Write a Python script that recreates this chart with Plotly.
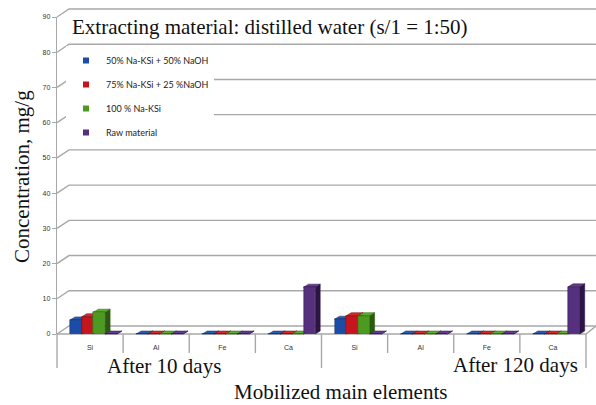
import plotly.graph_objects as go

# ---------------- data ----------------
elements = ["Si", "Al", "Fe", "Ca"]
periods = ["After 10 days", "After 120 days"]
tick_labels = elements * len(periods)

series_names = ["50% Na-KSi + 50% NaOH", "75% Na-KSi + 25 %NaOH", "100 % Na-KSi", "Raw material"]
naksi_50 = [4.0, 0, 0, 0, 4.2, 0, 0, 0]
naksi_75 = [4.9, 0, 0, 0, 5.2, 0, 0, 0]
naksi_100 = [6.2, 0, 0, 0, 5.2, 0, 0, 0]
raw_material = [0, 0, 0, 13.3, 0, 0, 0, 13.4]
series_values = [naksi_50, naksi_75, naksi_100, raw_material]

y_ticks = list(range(0, 91, 10))

# ---------------- style ----------------
front_cols = ["#1C4DA6", "#C4161C", "#4C9A1F", "#55307E"]
top_cols = ["#2D5EB3", "#D42A2A", "#5AAE28", "#643A92"]
side_cols = ["#0E2A5C", "#6E0A0C", "#2A5A0E", "#2C1545"]
grid_col = "#A8A8A8"
SERIF = "Liberation Serif"

W, H = 596, 405
L, R, T, B = 57, 586, 17, 334        # plot area in pixels
YMAX = 90
ncat = len(tick_labels)
cw = (R - L) / ncat
DX, DY = 12, 8                        # wall depth (px)
bdx, bdy = 5, 3                       # bar depth (px)
bw = 0.177                            # bar width (category units)
b0 = -0.303                           # first bar offset


def px(xd):
    return L + (xd + 0.5) * cw


def py(v):
    return B - v * (B - T) / YMAX


def fx(p):
    return (p - L) / (R - L)


def fy(p):
    return (B - p) / (B - T)


def path(pts, close=False):
    s = "M " + " L ".join(f"{fx(a):.5f},{fy(b):.5f}" for a, b in pts)
    return s + (" Z" if close else "")


shapes = []
# back-wall gridlines with 3D perspective
for v in y_ticks:
    y = py(v)
    shapes.append(dict(type="path", xref="paper", yref="paper", layer="below",
                       path=path([(L, y), (L + DX, y - DY), (W, y - DY)]),
                       line=dict(color=grid_col, width=1.4)))
# floor front edge and right side
y0 = py(0)
shapes.append(dict(type="path", xref="paper", yref="paper", layer="below",
                   path=path([(L, y0), (R, y0), (R + DX - 2, y0 - DY)]),
                   line=dict(color=grid_col, width=1.4)))
# category dividers
for k in range(ncat + 1):
    long = k % len(elements) == 0
    shapes.append(dict(type="line", xref="paper", yref="paper", layer="below",
                       x0=fx(L + k * cw), x1=fx(L + k * cw),
                       y0=fy(y0), y1=fy(y0 + (34 if long else 19)),
                       line=dict(color=grid_col, width=1.4)))

# 3D faces of the bars (drawn below the bar fronts)
for j in range(ncat):
    for i, vals in enumerate(series_values):
        v = vals[j]
        left = px(j + b0 + i * bw)
        right = px(j + b0 + (i + 1) * bw)
        top = py(v)
        shapes.append(dict(type="path", xref="paper", yref="paper", layer="below",
                           path=path([(right, y0), (right, top), (right + bdx, top - bdy),
                                      (right + bdx, y0 - bdy)], True),
                           fillcolor=side_cols[i], line=dict(color=side_cols[i], width=0.5)))
        shapes.append(dict(type="path", xref="paper", yref="paper", layer="below",
                           path=path([(left, top), (left + bdx, top - bdy),
                                      (right + bdx, top - bdy), (right, top)], True),
                           fillcolor=top_cols[i], line=dict(color=side_cols[i], width=0.5)))

fig = go.Figure()
xpos = list(range(ncat))
for i, (name, vals) in enumerate(zip(series_names, series_values)):
    fig.add_trace(go.Bar(x=xpos, y=vals, name=name, width=bw, offset=b0 + i * bw,
                         marker=dict(color=front_cols[i], line=dict(color=side_cols[i], width=0.5)),
                         showlegend=False, legendgroup=name))
    fig.add_trace(go.Scatter(x=[None], y=[None], mode="markers", name=name, legendgroup=name,
                             marker=dict(symbol="square", size=6, color=front_cols[i])))

annotations = [
    dict(text="Extracting material: distilled water (s/1 = 1:50)", xref="paper", yref="paper",
         x=fx(70), y=fy(27), xanchor="left", yanchor="middle", showarrow=False,
         font=dict(family=SERIF, size=21, color="#111")),
    dict(text="Concentration, mg/g", xref="paper", yref="paper", x=fx(22), y=fy(177),
         textangle=-90, xanchor="center", yanchor="middle", showarrow=False,
         font=dict(family=SERIF, size=21, color="#111")),
    dict(text="Mobilized main elements", xref="paper", yref="paper", x=fx(340), y=fy(392),
         xanchor="center", yanchor="middle", showarrow=False,
         font=dict(family=SERIF, size=21, color="#111")),
    dict(text=periods[0], xref="paper", yref="paper", x=fx(164), y=fy(366),
         xanchor="center", yanchor="middle", showarrow=False,
         font=dict(family=SERIF, size=21, color="#111")),
    dict(text=periods[1], xref="paper", yref="paper", x=fx(515), y=fy(365),
         xanchor="center", yanchor="middle", showarrow=False,
         font=dict(family=SERIF, size=21, color="#111")),
]

fig.update_layout(
    width=W, height=H,
    margin=dict(l=L, r=W - R, t=T, b=H - B, pad=0),
    paper_bgcolor="white", plot_bgcolor="rgba(0,0,0,0)",
    shapes=shapes, annotations=annotations,
    legend=dict(x=fx(66), y=fy(46), xanchor="left", yanchor="top",
                bgcolor="white", traceorder="grouped", tracegroupgap=5,
                font=dict(family="Lato", size=9, color="#222"), itemwidth=30),
    xaxis=dict(range=[-0.5, ncat - 0.5], tickvals=xpos, ticktext=tick_labels,
               showgrid=False, zeroline=False, showline=False, ticks="",
               ticklabelstandoff=8, tickfont=dict(family="Liberation Sans", size=7, color="#333")),
    yaxis=dict(range=[0, YMAX], tickvals=y_ticks, showgrid=False, zeroline=False,
               showline=True, linecolor=grid_col, linewidth=1.4,
               ticks="outside", ticklen=4, tickcolor=grid_col, tickwidth=1,
               tickfont=dict(family="Liberation Sans", size=7, color="#333")),
    bargap=0,
)

fig.write_html("out.html", config={"displayModeBar": False},
               post_script="document.body.style.margin='0';")
